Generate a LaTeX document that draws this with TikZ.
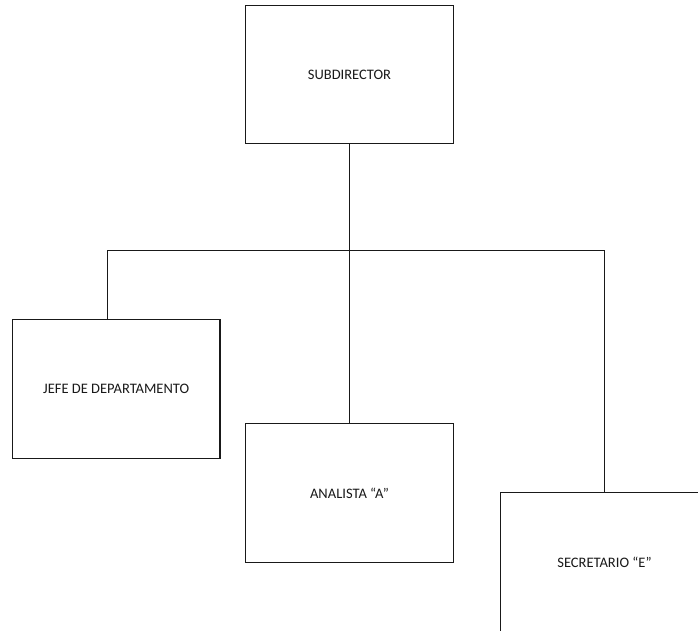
\documentclass[tikz,border=0pt]{standalone}
\usepackage{fontspec}
\setmainfont{Carlito}
\begin{document}
\begin{tikzpicture}[x=1pt,y=-1pt,
  orgbox/.style={draw=black!90, line width=1.1pt, fill=white, minimum width=207.6pt, minimum height=138.5pt, inner sep=0pt, font=\fontsize{14.5}{17}\selectfont, text=black!90},
  link/.style={draw=black!90, line width=1.1pt}]
\useasboundingbox (0,0) rectangle (698,631);
\node[orgbox] (sub) at (349.5,74.5) {SUBDIRECTOR};
\node[orgbox] (jefe) at (116.2,389) {JEFE DE DEPARTAMENTO};
\node[orgbox] (ana) at (349.5,493) {ANALISTA “A”};
\node[orgbox] (sec) at (604.5,562) {SECRETARIO “E”};
\coordinate (bl) at (107.3,250.7);
\coordinate (bm) at (349.5,250.7);
\coordinate (br) at (604.5,250.7);
\draw[link] (sub.south) -- (ana.north);
\draw[link] (bl) -- (br);
\draw[link] (bl) -- (bl |- jefe.north);
\draw[link] (br) -- (sec.north);
\end{tikzpicture}
\end{document}
